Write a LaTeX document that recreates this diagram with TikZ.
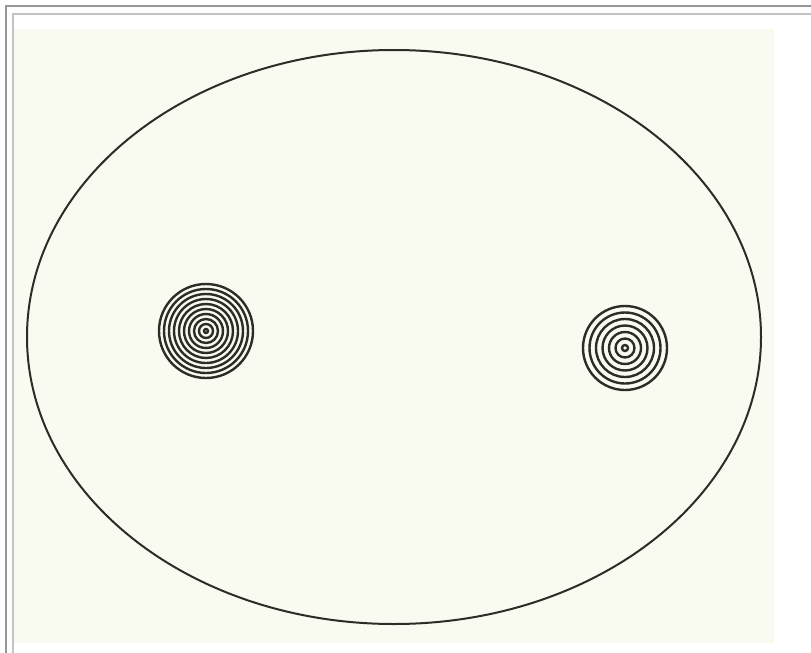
\documentclass[tikz,border=0pt]{standalone}
\usepackage{tikz}
\definecolor{paper}{RGB}{250,251,240}
\definecolor{framegray}{RGB}{150,150,150}
\definecolor{innergray}{RGB}{195,195,195}
\definecolor{ink}{RGB}{45,45,40}

\begin{document}
\begin{tikzpicture}[
    x=1pt, y=-1pt,
    frame/.style={draw=framegray, line width=1.5pt},
    inner/.style={draw=innergray, line width=1.5pt},
    outline/.style={draw=ink, line width=2pt},
    ring/.style={draw=ink, line width=2.4pt}
  ]
    \useasboundingbox (0,0) rectangle (811,653);
    % frames and paper
    \fill[white] (0,0) rectangle (811,653);
    \draw[frame] (6,653) -- (6,6) -- (811,6);
    \draw[inner] (13,653) -- (13,14) -- (811,14);
    \fill[paper] (14,29) rectangle (774,643);

    % outer ellipse
    \draw[outline] (394,337) ellipse [x radius=367, y radius=287];

    % left disc
    \foreach \r in {2,7,...,51}
      \draw[ring] (206,331) circle [radius=\r];
    % right disc
    \foreach \r in {3,9.5,...,44}
      \draw[ring] (625,348) circle [radius=\r];
  \end{tikzpicture}
\end{document}
